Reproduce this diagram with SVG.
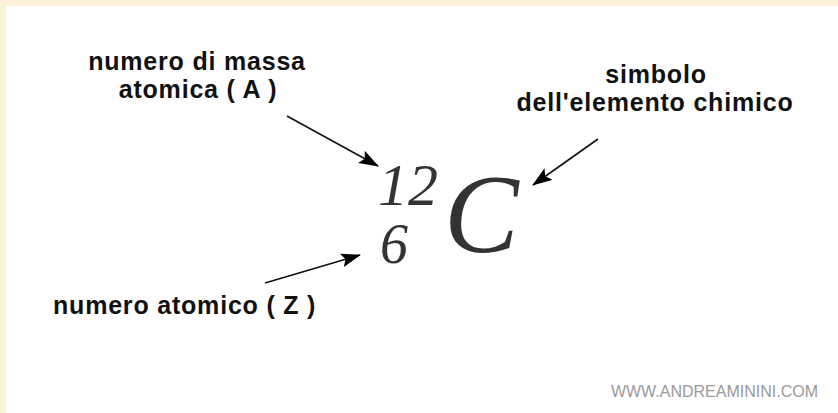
<svg xmlns="http://www.w3.org/2000/svg" width="838" height="413" viewBox="0 0 838 413">
<defs>
<style>
.lbl{font-family:"Liberation Sans",Arial,sans-serif;font-weight:bold;font-size:25px;letter-spacing:0.8px;fill:#111;}
.sym{font-family:"Liberation Serif","Times New Roman",serif;font-style:italic;fill:#333;}
.wm{font-family:"Liberation Sans",Arial,sans-serif;font-size:16px;fill:#9a9a9a;}
.arr{stroke:#111;stroke-width:1.6;fill:none;marker-end:url(#ah);}
</style>
<marker id="ah" viewBox="0 0 20 14" refX="19" refY="7" markerWidth="20" markerHeight="14" markerUnits="userSpaceOnUse" orient="auto">
<path d="M0,0 L20,7 L0,14 L4,7 Z" fill="#000"/>
</marker>
</defs>
<rect x="0" y="0" width="838" height="413" fill="#fdf1d8"/>
<rect x="6" y="6" width="832" height="407" fill="#ffffff"/>
<g id="label-A">
<text class="lbl" x="197" y="70" text-anchor="middle">numero di massa</text>
<text class="lbl" x="198" y="98" text-anchor="middle">atomica ( A )</text>
</g>
<g id="label-symbol">
<text class="lbl" x="656" y="83" text-anchor="middle">simbolo</text>
<text class="lbl" x="655" y="111" text-anchor="middle">dell'elemento chimico</text>
</g>
<g id="label-Z">
<text class="lbl" x="53" y="314">numero atomico ( Z )</text>
</g>
<g id="isotope">
<text class="sym" x="378" y="205" font-size="60">12</text>
<text class="sym" x="380" y="263" font-size="56">6</text>
<text class="sym" x="444" y="252" font-size="112">C</text>
</g>
<g id="connectors">
<line class="arr" x1="287" y1="116" x2="378" y2="166"/>
<line class="arr" x1="598" y1="139" x2="533" y2="185"/>
<line class="arr" x1="265" y1="283" x2="360" y2="255"/>
</g>
<g id="watermark">
<text class="wm" x="818" y="397" text-anchor="end">WWW.ANDREAMININI.COM</text>
</g>
</svg>
